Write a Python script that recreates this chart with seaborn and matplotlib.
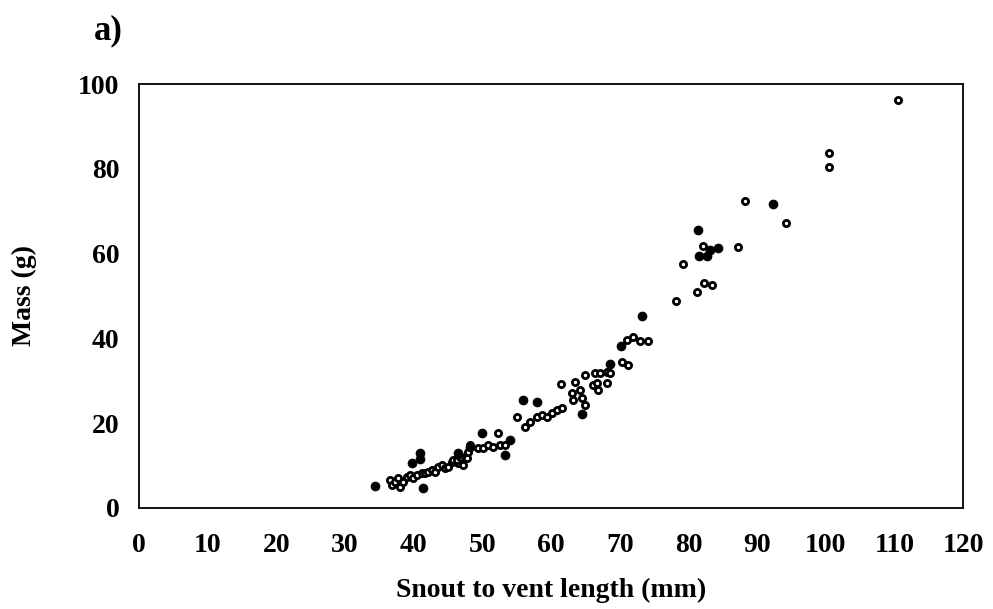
import matplotlib
matplotlib.use("Agg")
import matplotlib.pyplot as plt
import seaborn as sns
import pandas as pd

# Open-circle series (snout-vent length mm, mass g)
open_svl = [36.5, 36.8, 37.3, 37.7, 38.0, 38.4, 39.0, 39.5, 39.9, 40.5, 41.2, 41.6,
            42.1, 42.7, 43.1, 43.5, 44.1, 44.5, 45.0, 45.6, 45.7, 46.4, 47.2, 46.3,
            46.7, 47.0, 47.5, 47.7, 47.9, 48.2, 49.3, 50.1, 50.8, 51.5, 52.6, 53.3,
            52.3, 55.0, 56.2, 56.9, 57.9, 58.7, 59.4, 60.1, 60.8, 61.6, 61.4, 63.0,
            63.2, 63.5, 64.2, 64.9, 64.9, 64.5, 66.1, 66.7, 66.8, 66.4, 67.1, 68.1,
            68.1, 68.6, 70.3, 71.2, 71.0, 71.9, 72.9, 74.1, 78.2, 79.2, 81.2, 82.2,
            83.4, 87.2, 82.1, 88.2, 94.2, 100.4, 100.4, 110.5]
open_mass = [6.6, 5.4, 6.1, 7.1, 5.0, 6.1, 7.3, 7.8, 7.1, 7.8, 8.3, 8.3,
             8.5, 9.0, 8.5, 9.7, 10.1, 9.4, 9.7, 10.9, 11.3, 10.6, 10.1, 11.3,
             12.0, 11.8, 12.0, 11.8, 13.2, 14.9, 14.2, 14.2, 14.9, 14.4, 14.9, 14.9,
             17.7, 21.5, 19.1, 20.3, 21.5, 21.9, 21.5, 22.4, 23.1, 23.6, 29.3, 27.1,
             25.5, 29.7, 27.8, 31.4, 24.3, 25.9, 29.0, 29.5, 27.8, 31.8, 31.8, 32.1,
             29.5, 31.8, 34.4, 33.7, 39.6, 40.3, 39.4, 39.4, 48.8, 57.6, 50.9, 53.1,
             52.6, 61.6, 61.8, 72.4, 67.2, 83.7, 80.4, 96.2]

# Filled-circle series
filled_svl = [34.4, 41.3, 40.9, 40.9, 39.7, 46.4, 48.2, 53.3, 54.0, 49.9, 55.9, 57.9,
              64.5, 68.6, 70.2, 73.2, 81.4, 84.3, 81.5, 82.7, 83.1, 92.3]
filled_mass = [5.2, 4.7, 13.0, 11.6, 10.6, 13.0, 14.4, 12.5, 16.0, 17.7, 25.5, 25.0,
               22.2, 34.0, 38.2, 45.3, 65.6, 61.3, 59.4, 59.4, 60.8, 71.7]

x_ticks = list(range(0, 121, 10))
y_ticks = list(range(0, 101, 20))

sns.set_theme(style="white")
plt.rcParams['font.family'] = ['Liberation Serif', 'DejaVu Serif']
plt.rcParams['font.weight'] = 'bold'
plt.rcParams['text.color'] = 'black'
plt.rcParams['axes.labelcolor'] = 'black'

fig = plt.figure(figsize=(9.93, 6.09), dpi=100)
ax = fig.add_axes([0.140, 0.166, 0.830, 0.696])

df_open = pd.DataFrame({"svl": open_svl, "mass": open_mass})
df_filled = pd.DataFrame({"svl": filled_svl, "mass": filled_mass})

sns.scatterplot(data=df_open, x="svl", y="mass", ax=ax, marker="o", s=20,
                facecolor="white", edgecolor="black", linewidth=2.0, zorder=3)
sns.scatterplot(data=df_filled, x="svl", y="mass", ax=ax, marker="o", s=42,
                color="black", edgecolor="black", linewidth=0.5, zorder=4)

ax.set_xlim(0, 120)
ax.set_ylim(0, 100)
ax.set_xticks(x_ticks)
ax.set_yticks(y_ticks)
ax.set_xticklabels([str(v) for v in x_ticks], fontsize=20, fontweight='bold')
ax.set_yticklabels([str(v) for v in y_ticks], fontsize=20, fontweight='bold')
ax.tick_params(axis='x', length=0, pad=18, colors='black')
ax.tick_params(axis='y', length=0, pad=14, colors='black')

for sp in ax.spines.values():
    sp.set_visible(True)
    sp.set_color('black')
    sp.set_linewidth(1.3)

ax.set_xlabel("Snout to vent length (mm)", fontsize=20, fontweight='bold', labelpad=14)
ax.set_ylabel("Mass (g)", fontsize=20, fontweight='bold', labelpad=30)
fig.text(0.095, 0.950, "a)", fontsize=25, fontweight='bold', ha='left', va='center')

fig.savefig("out.png", dpi=100, facecolor="white")
